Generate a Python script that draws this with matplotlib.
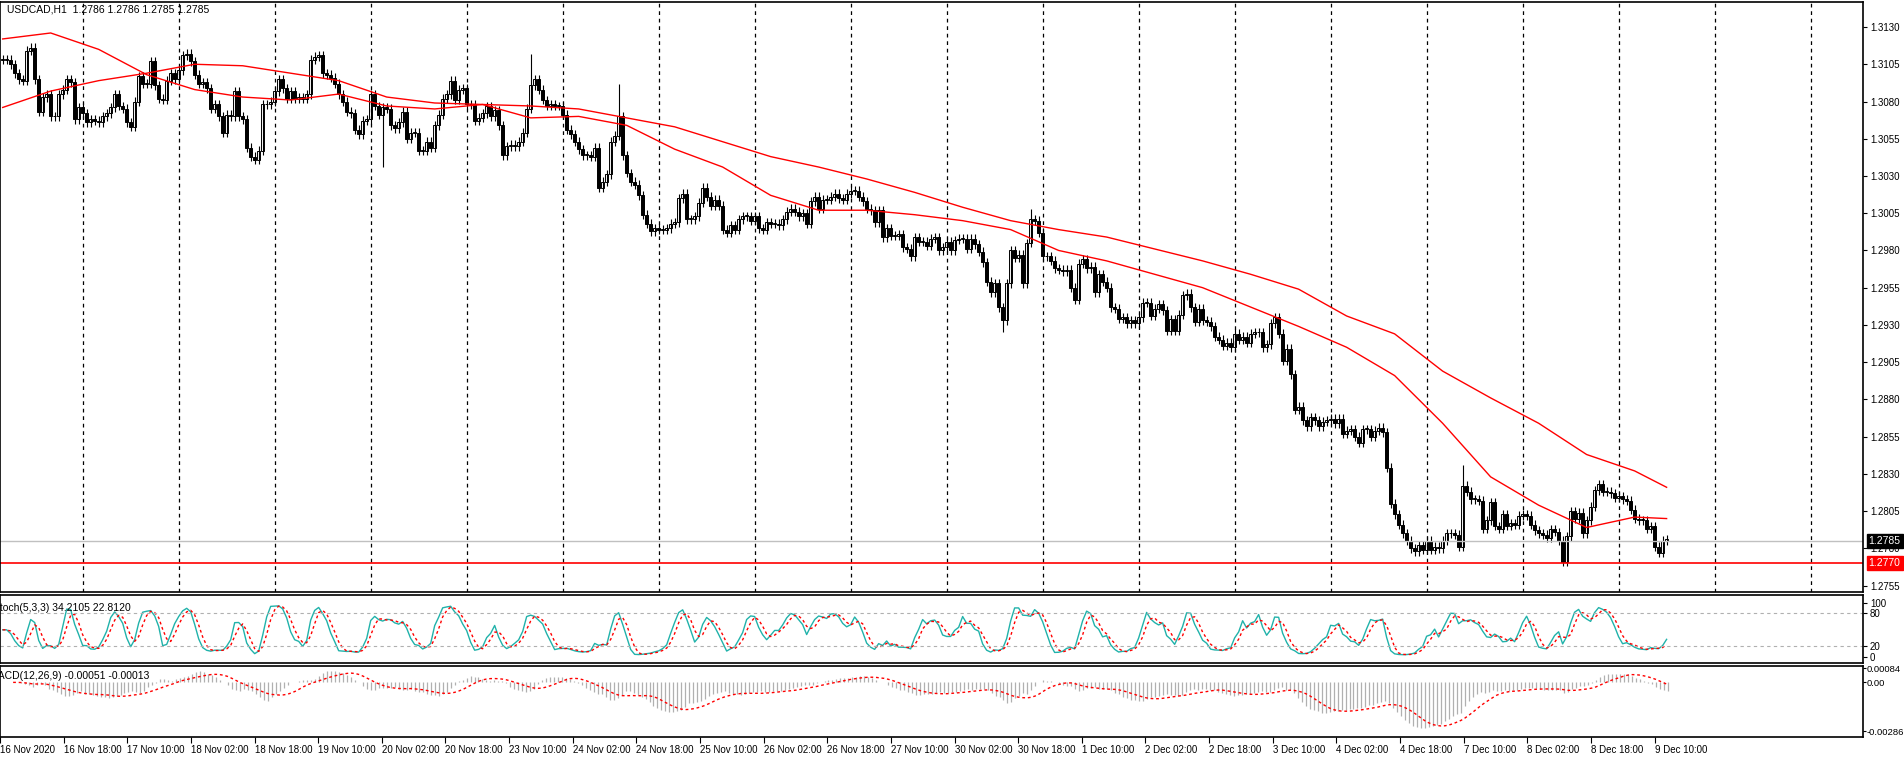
import numpy as np
import pandas as pd
import matplotlib
matplotlib.use("Agg")
import matplotlib.pyplot as plt

plt.rcParams['font.family'] = ['Liberation Sans', 'DejaVu Sans']

# cierres horarios USDCAD H1 (16 Nov 04:00 -> 9 Dec 12:00)
dias = ["16 Nov", "17 Nov", "18 Nov", "19 Nov", "20 Nov", "23 Nov", "24 Nov", "25 Nov",
        "26 Nov", "27 Nov", "30 Nov", "1 Dec", "2 Dec", "3 Dec", "4 Dec", "7 Dec", "8 Dec", "9 Dec"]
hora_inicio = [4] + [0] * 17

cierres_dia = [
    [1.3108, 1.3108, 1.3105, 1.3099, 1.3095, 1.3094, 1.3114, 1.3116, 1.3095, 1.3073,
     1.3083, 1.3085, 1.3070, 1.3070, 1.3085, 1.3088, 1.3095, 1.3093, 1.3068, 1.3076],
    [1.3072, 1.3066, 1.3068, 1.3067, 1.3066, 1.3070, 1.3072, 1.3076, 1.3085, 1.3077, 1.3075, 1.3066,
     1.3063, 1.3080, 1.3097, 1.3092, 1.3092, 1.3107, 1.3091, 1.3082, 1.3081, 1.3094, 1.3099, 1.3095],
    [1.3101, 1.3111, 1.3112, 1.3107, 1.3098, 1.3092, 1.3093, 1.3089, 1.3075, 1.3078, 1.3070, 1.3059,
     1.3071, 1.3070, 1.3087, 1.3070, 1.3068, 1.3049, 1.3043, 1.3041, 1.3047, 1.3078, 1.3078, 1.3080],
    [1.3087, 1.3095, 1.3089, 1.3082, 1.3087, 1.3082, 1.3083, 1.3082, 1.3085, 1.3108, 1.3110, 1.3111,
     1.3099, 1.3098, 1.3096, 1.3092, 1.3085, 1.3080, 1.3073, 1.3072, 1.3061, 1.3058, 1.3067, 1.3068],
    [1.3085, 1.3077, 1.3071, 1.3076, 1.3075, 1.3064, 1.3062, 1.3066, 1.3073, 1.3055, 1.3059, 1.3059,
     1.3047, 1.3047, 1.3053, 1.3049, 1.3064, 1.3071, 1.3082, 1.3085, 1.3094, 1.3081, 1.3088, 1.3089],
    [1.3078, 1.3078, 1.3067, 1.3069, 1.3072, 1.3077, 1.3070, 1.3074, 1.3064, 1.3044, 1.3050, 1.3051,
     1.3050, 1.3053, 1.3059, 1.3075, 1.3091, 1.3095, 1.3088, 1.3081, 1.3077, 1.3078, 1.3077, 1.3077],
    [1.3071, 1.3061, 1.3058, 1.3053, 1.3048, 1.3044, 1.3044, 1.3043, 1.3049, 1.3022, 1.3026, 1.3031,
     1.3053, 1.3057, 1.3070, 1.3044, 1.3032, 1.3026, 1.3024, 1.3017, 1.3004, 1.2998, 1.2993, 1.2995],
    [1.2994, 1.2994, 1.2995, 1.2998, 1.2999, 1.3015, 1.3018, 1.3001, 1.3001, 1.3003, 1.3012, 1.3022,
     1.3016, 1.3010, 1.3014, 1.3010, 1.2994, 1.2992, 1.2997, 1.2994, 1.3001, 1.3003, 1.3003, 1.3000],
    [1.3003, 1.2995, 1.2994, 1.2999, 1.2998, 1.2998, 1.2997, 1.3001, 1.3006, 1.3008, 1.3006, 1.3003,
     1.3005, 1.2998, 1.3013, 1.3016, 1.3008, 1.3014, 1.3014, 1.3016, 1.3018, 1.3015, 1.3014, 1.3018],
    [1.3020, 1.3020, 1.3016, 1.3013, 1.3008, 1.3007, 1.2999, 1.3007, 1.2989, 1.2995, 1.2990, 1.2990,
     1.2991, 1.2982, 1.2981, 1.2976, 1.2989, 1.2986, 1.2986, 1.2983, 1.2988, 1.2989, 1.2980, 1.2982],
    [1.2986, 1.2980, 1.2987, 1.2988, 1.2988, 1.2981, 1.2988, 1.2984, 1.2979, 1.2972, 1.2959, 1.2952,
     1.2958, 1.2942, 1.2933, 1.2958, 1.2980, 1.2975, 1.2977, 1.2958, 1.2985, 1.3001, 1.3000, 1.2992],
    [1.2976, 1.2976, 1.2973, 1.2968, 1.2967, 1.2966, 1.2967, 1.2955, 1.2947, 1.2971, 1.2974, 1.2968,
     1.2969, 1.2952, 1.2964, 1.2959, 1.2955, 1.2942, 1.2941, 1.2934, 1.2935, 1.2931, 1.2933, 1.2931],
    [1.2935, 1.2945, 1.2945, 1.2936, 1.2941, 1.2944, 1.2940, 1.2926, 1.2934, 1.2926, 1.2937, 1.2950,
     1.2951, 1.2942, 1.2932, 1.2941, 1.2933, 1.2932, 1.2929, 1.2922, 1.2920, 1.2916, 1.2918, 1.2915],
    [1.2924, 1.2920, 1.2922, 1.2918, 1.2924, 1.2925, 1.2925, 1.2915, 1.2917, 1.2931, 1.2935, 1.2924,
     1.2906, 1.2914, 1.2897, 1.2873, 1.2875, 1.2866, 1.2862, 1.2868, 1.2866, 1.2862, 1.2865, 1.2866],
    [1.2867, 1.2864, 1.2867, 1.2857, 1.2859, 1.2860, 1.2855, 1.2851, 1.2860, 1.2860, 1.2855, 1.2859,
     1.2861, 1.2858, 1.2834, 1.2810, 1.2803, 1.2796, 1.2790, 1.2785, 1.2780, 1.2778, 1.2782, 1.2779],
    [1.2785, 1.2779, 1.2781, 1.2780, 1.2785, 1.2790, 1.2790, 1.2789, 1.2781, 1.2822, 1.2818, 1.2813,
     1.2813, 1.2812, 1.2793, 1.2799, 1.2811, 1.2795, 1.2793, 1.2803, 1.2795, 1.2797, 1.2796, 1.2802],
    [1.2803, 1.2802, 1.2796, 1.2792, 1.2790, 1.2789, 1.2787, 1.2793, 1.2791, 1.2785, 1.2771, 1.2788,
     1.2805, 1.2800, 1.2804, 1.2790, 1.2799, 1.2808, 1.2819, 1.2823, 1.2818, 1.2818, 1.2817, 1.2814],
    [1.2815, 1.2813, 1.2812, 1.2806, 1.2800, 1.2799, 1.2799, 1.2793, 1.2795, 1.2781, 1.2777, 1.2785,
     1.2786],
]

# mechas destacadas: barra -> (maximo, minimo)
mechas = {132: (1.3112, None), 154: (1.3092, None), 250: (None, 1.2925), 257: (1.3008, None),
          365: (1.2836, None), 390: (None, 1.2768), 95: (None, 1.3036)}

# medias moviles leidas cada 12 barras (y la ultima barra)
ma_rapida = [1.3122, 1.3126, 1.3115, 1.3098, 1.3088, 1.3083, 1.3081, 1.3085,
             1.3077, 1.3075, 1.3078, 1.3069, 1.3070, 1.3064, 1.3048,
             1.3036, 1.3017, 1.3007, 1.3007, 1.3004, 1.3000,
             1.2994, 1.2980, 1.2973, 1.2964, 1.2955, 1.2942, 1.2929,
             1.2915, 1.2896, 1.2864, 1.2828, 1.2809, 1.2794, 1.2801, 1.2800]
ma_lenta = [1.3076, 1.3087, 1.3094, 1.3099, 1.3105, 1.3104, 1.3099, 1.3094,
            1.3083, 1.3079, 1.3078, 1.3077, 1.3075, 1.3069, 1.3063,
            1.3053, 1.3043, 1.3036, 1.3028, 1.3019, 1.3009,
            1.3000, 1.2994, 1.2989, 1.2981, 1.2973, 1.2964, 1.2954,
            1.2936, 1.2924, 1.2899, 1.2881, 1.2864, 1.2843, 1.2832, 1.2821]

precio_actual = 1.2785
linea_horizontal = 1.2770

# ---- datos OHLC ----
cierres = np.array([c for d in cierres_dia for c in d])
n = len(cierres)
aperturas = np.concatenate([[cierres[0]], cierres[:-1]])
maximos = np.maximum(aperturas, cierres) + 0.0003
minimos = np.minimum(aperturas, cierres) - 0.0003
for i, (h, l) in mechas.items():
    if h is not None:
        maximos[i] = h
    if l is not None:
        minimos[i] = l

# etiquetas de tiempo
tiempos = []
inicio_dia = []
for d, h0, cs in zip(dias, hora_inicio, cierres_dia):
    inicio_dia.append(len(tiempos))
    for k in range(len(cs)):
        tiempos.append((d, h0 + k))

# indicadores
s = pd.Series(cierres)
hh = pd.Series(maximos).rolling(5, min_periods=1).max()
ll = pd.Series(minimos).rolling(5, min_periods=1).min()
num = (s - ll).rolling(3, min_periods=1).sum()
den = (hh - ll).rolling(3, min_periods=1).sum()
stoch_k = 100 * num / den
stoch_d = stoch_k.rolling(3, min_periods=1).mean()
macd = s.ewm(span=12, adjust=False).mean() - s.ewm(span=26, adjust=False).mean()
macd_sig = macd.rolling(9, min_periods=1).mean()

# ---- figura ----
W, H = 1904, 760
fig = plt.figure(figsize=(W / 100, H / 100), dpi=100)
ancho = 1863 / W
ax1 = fig.add_axes([0, 1 - 592 / H, ancho, 590 / H])
ax2 = fig.add_axes([0, 1 - 663 / H, ancho, 68 / H])
ax3 = fig.add_axes([0, 1 - 737 / H, ancho, 71 / H])

xmin, xmax = -0.675, 465.1
fuente = 7
for ax in (ax1, ax2, ax3):
    ax.set_xlim(xmin, xmax)
    ax.yaxis.tick_right()
    ax.tick_params(axis="y", length=3, labelsize=fuente, pad=2)
    for sp in ax.spines.values():
        sp.set_linewidth(1.2)
    ax.tick_params(axis="x", bottom=False, labelbottom=False)
ax3.tick_params(axis="y", length=2, pad=0.5, labelsize=6.8)

# separadores de dias
todos_dias = inicio_dia + [n + 11, n + 35]
for x in todos_dias[1:]:
    ax1.axvline(x, color="black", ls=(0, (3, 3)), lw=0.9)

# velas
x = np.arange(n)
ax1.vlines(x, minimos, maximos, color="black", lw=0.8)
alcista = cierres >= aperturas
cuerpo = np.abs(cierres - aperturas)
cuerpo = np.where(cuerpo < 0.00005, 0.00005, cuerpo)
ax1.bar(x[alcista], cuerpo[alcista], bottom=aperturas[alcista], width=0.6,
        color="white", edgecolor="black", linewidth=0.7)
ax1.bar(x[~alcista], cuerpo[~alcista], bottom=cierres[~alcista], width=0.6,
        color="black", edgecolor="black", linewidth=0.7)

pos_ma = list(range(0, n, 12)) + [n - 1]
ax1.plot(pos_ma, ma_rapida, color="red", lw=1)
ax1.plot(pos_ma, ma_lenta, color="red", lw=1)

ax1.axhline(precio_actual, color="#c0c0c0", lw=1)
ax1.axhline(linea_horizontal, color="red", lw=1.2)

ax1.set_ylim(1.27507, 1.31468)
ticks_precio = np.arange(1.2755, 1.3131, 0.0025)
ax1.set_yticks(ticks_precio)
ax1.set_yticklabels([f"{t:.4f}" for t in ticks_precio])
ax1.text(1.003, precio_actual, f"{precio_actual:.4f}", transform=ax1.get_yaxis_transform(),
         color="white", fontsize=fuente + 0.5, va="center", ha="left",
         bbox=dict(boxstyle="square,pad=0.2", fc="black", ec="black"))
ax1.text(1.003, linea_horizontal, f"{linea_horizontal:.4f}", transform=ax1.get_yaxis_transform(),
         color="white", fontsize=fuente + 0.5, va="center", ha="left",
         bbox=dict(boxstyle="square,pad=0.2", fc="red", ec="red"))
ax1.text(0.004, 0.995, "USDCAD,H1  1.2786 1.2786 1.2785 1.2785", transform=ax1.transAxes,
         fontsize=fuente + 0.5, va="top", ha="left")

# estocastico
ax2.plot(x, stoch_k, color="#20b2aa", lw=1)
ax2.plot(x, stoch_d, color="red", lw=1, ls=(0, (2, 2)))
for nivel in (20, 80):
    ax2.axhline(nivel, color="#b0b0b0", lw=0.8, ls=(0, (3, 3)))
ax2.set_ylim(-11, 114)
ax2.set_yticks([0, 20, 80, 100])
ax2.set_yticklabels(["0", "20", "80", "100"])
ax2.text(-0.004, 0.88, "Stoch(5,3,3) 34.2105 22.8120", transform=ax2.transAxes,
         fontsize=fuente + 0.5, va="top", ha="left")

# MACD
ax3.vlines(x, 0, macd, color="#b0b0b0", lw=0.9)
ax3.plot(x, macd_sig, color="red", lw=1, ls=(0, (2, 2)))
ax3.set_ylim(-0.0032, 0.00096)
ax3.set_yticks([-0.00286, 0.0, 0.00084])
ax3.set_yticklabels(["-0.00286", "0.00", "0.00084"])
ax3.text(-0.006, 0.93, "MACD(12,26,9) -0.00051 -0.00013", transform=ax3.transAxes,
         fontsize=fuente + 0.5, va="top", ha="left")

# etiquetas del eje de tiempo cada 16 barras
pos_x = [-2]
etq_x = ["16 Nov 2020"]
for i in range(14, n, 16):
    d, h = tiempos[i]
    pos_x.append(i)
    etq_x.append(f"{d} {h:02d}:00")
pos_x = [p - 1.3 for p in pos_x]
ax3.set_xticks(pos_x)
ax3.set_xticklabels(etq_x)
ax3.tick_params(axis="x", bottom=True, labelbottom=True, length=4, labelsize=fuente, pad=2)
for lab in ax3.get_xticklabels():
    lab.set_ha("left")

fig.savefig("out.png", dpi=100, facecolor="white")
